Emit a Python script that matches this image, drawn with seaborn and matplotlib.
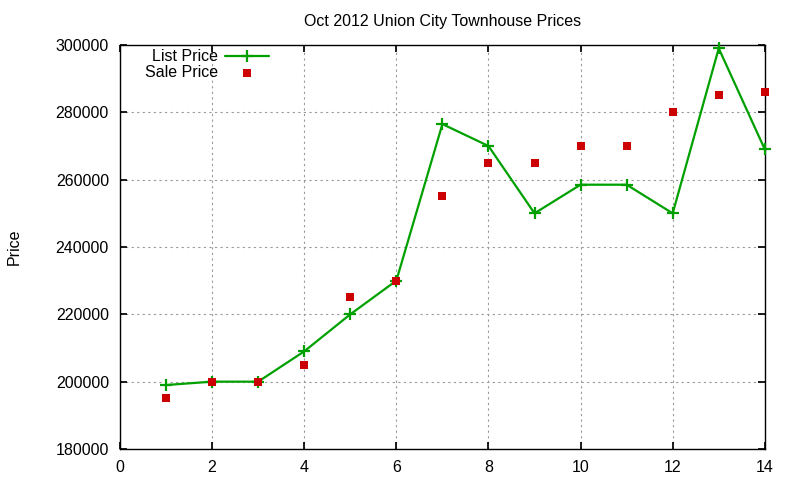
import seaborn as sns
import pandas as pd
import matplotlib.pyplot as plt

days = list(range(1, 15))
list_price = [199000, 200000, 200000, 209000, 220000, 230000, 276500,
              270000, 250000, 258500, 258500, 250000, 299000, 269000]
sale_price = [195000, 200000, 200000, 205000, 225000, 230000, 255000,
              265000, 265000, 270000, 270000, 280000, 285000, 286000]

df = pd.DataFrame({"day": days, "list": list_price, "sale": sale_price})

sns.set_theme(style='ticks', rc={"text.color": "black", "axes.labelcolor": "black"})
plt.rcParams['font.family'] = ['Liberation Sans', 'DejaVu Sans']

fig = plt.figure(figsize=(8, 4.8), dpi=100)
ax = fig.add_axes([0.15, 0.0646, 0.806, 0.8417])

sns.lineplot(data=df, x="day", y="list", ax=ax, color="#00a000", linewidth=1.6,
             marker="+", markersize=8, markeredgewidth=1.6, markeredgecolor="#00a000",
             label="List Price", clip_on=False, zorder=3)
sns.scatterplot(data=df, x="day", y="sale", ax=ax, color="#cc0000", marker="s",
                s=40, linewidth=0, label="Sale Price", zorder=4, clip_on=False)

ax.set_xlim(0, 14)
ax.set_ylim(180000, 300000)
ax.set_xticks(range(0, 15, 2))
ax.set_yticks(range(180000, 300001, 20000))
ax.grid(True, linestyle=(0, (2, 3)), color="#999999", linewidth=0.8)
ax.tick_params(direction="in", top=True, right=True, length=5, labelsize=11.5,
               colors="black", pad=8)
for s in ax.spines.values():
    s.set_visible(True)
    s.set_color("black")
    s.set_linewidth(1.0)

ax.set_title("Oct 2012 Union City Townhouse Prices", fontsize=11.5, pad=14)
ax.set_xlabel("")
ax.set_ylabel("Price", fontsize=11.5)
ax.yaxis.set_label_coords(-0.153, 0.5)

ax.legend(loc="upper left", bbox_to_anchor=(0.0167, 1.025), frameon=False,
          markerfirst=False, alignment="right", fontsize=11.5, handlelength=2.8,
          handletextpad=0.4, labelspacing=0.05)

fig.savefig("out.png", dpi=100)
